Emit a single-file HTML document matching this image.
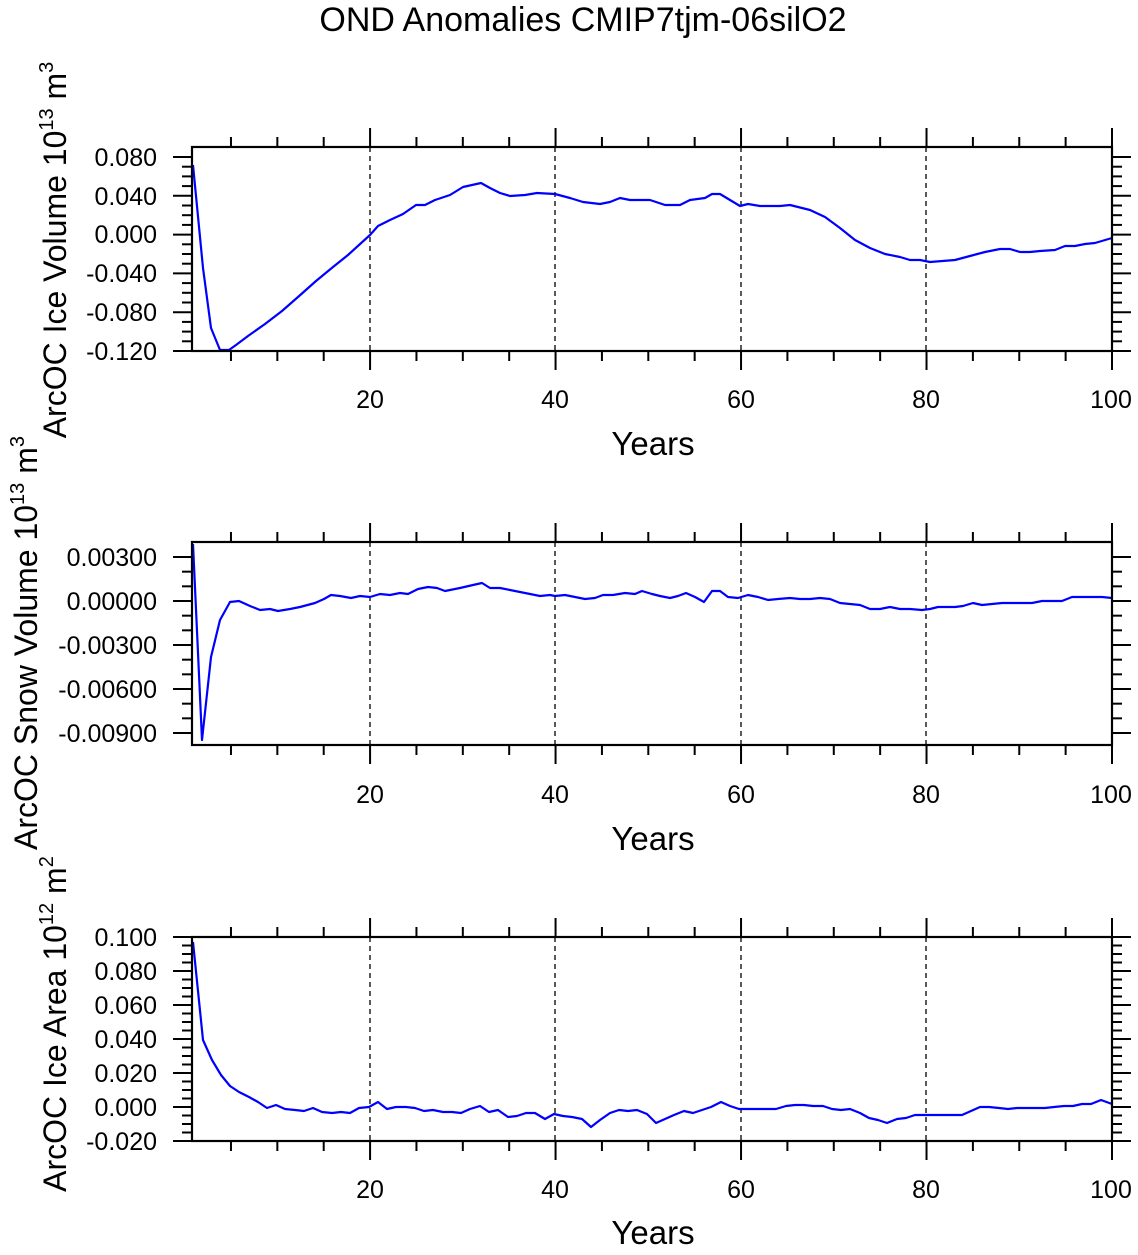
<!DOCTYPE html>
<html><head><meta charset="utf-8"><style>
html,body{margin:0;padding:0;background:#fff}
svg text{font-family:"Liberation Sans",Arial,sans-serif;fill:#000}
</style></head><body>
<svg id="s" width="1138" height="1250" viewBox="0 0 1138 1250" xmlns="http://www.w3.org/2000/svg">
<rect width="1138" height="1250" fill="#fff"/>
<text x="583" y="31" font-size="34" text-anchor="middle">OND Anomalies CMIP7tjm-06silO2</text>
<g id="ticks" stroke="#000" stroke-width="2"></g>
<g stroke="#000" stroke-width="1.3" stroke-dasharray="5,4">
<line x1="370" y1="147" x2="370" y2="351"/><line x1="555" y1="147" x2="555" y2="351"/><line x1="741" y1="147" x2="741" y2="351"/><line x1="926" y1="147" x2="926" y2="351"/>
<line x1="370" y1="542" x2="370" y2="745"/><line x1="555" y1="542" x2="555" y2="745"/><line x1="741" y1="542" x2="741" y2="745"/><line x1="926" y1="542" x2="926" y2="745"/>
<line x1="370" y1="937" x2="370" y2="1141"/><line x1="555" y1="937" x2="555" y2="1141"/><line x1="741" y1="937" x2="741" y2="1141"/><line x1="926" y1="937" x2="926" y2="1141"/>
</g>
<g fill="none" stroke="#00f" stroke-width="2.2" stroke-linejoin="round">
<polyline points="193,165 203,268 211,328 220,350 229,350 236,345 248,336 265,324 282,311 298,297 316,281 333,267 348,255 370,235 378,226 390,220 403,214 416,205 425,205 435,200 450,195 463,187 481,183 490,188 500,193 510,196 525,195 537,193 555,194 570,198 583,202 600,204 610,202 620,198 630,200 650,200 665,205 680,205 690,200 705,198 712,194 720,194 740,206 748,204 760,206 780,206 790,205 810,210 825,217 840,228 855,240 870,248 885,254 900,257 910,260 920,260 930,262 955,260 970,256 985,252 1000,249 1010,249 1020,252 1030,252 1040,251 1055,250 1065,246 1075,246 1085,244 1095,243 1112,238"/>
<polyline points="193,544 202,740 211,657 220,620 230,602 239,601 250,606 260,610 270,609 278,611 290,609 300,607 315,603 324,599 331,595 340,596 351,598 360,596 370,597 380,594 390,595 400,593 408,594 418,589 428,587 437,588 445,591 460,588 473,585 482,583 490,588 500,588 510,590 520,592 530,594 540,596 550,595 555,596 565,595 575,597 585,599 595,598 603,595 613,595 625,593 635,594 642,591 652,594 660,596 670,598 678,596 686,593 695,597 704,602 712,591 720,591 728,597 738,598 748,595 758,597 768,600 778,599 790,598 800,599 810,599 820,598 830,599 840,603 850,604 860,605 870,609 880,609 890,607 900,609 910,609 922,610 930,609 938,607 955,607 963,606 973,603 982,605 992,604 1002,603 1012,603 1022,603 1032,603 1042,601 1052,601 1062,601 1072,597 1082,597 1092,597 1102,597 1112,598"/>
<polyline points="193,942 203,1040 212,1060 221,1075 230,1086 239,1092 249,1097 258,1102 267,1108 276,1105 285,1109 295,1110 304,1111 313,1108 322,1112 332,1113 341,1112 350,1113 359,1108 369,1107 378,1102 387,1109 396,1107 406,1107 415,1108 424,1111 433,1110 443,1112 452,1112 461,1113 470,1109 480,1106 489,1112 498,1110 508,1117 517,1116 526,1113 535,1113 545,1119 554,1114 563,1116 572,1117 582,1119 591,1127 600,1120 610,1113 619,1110 628,1111 637,1110 647,1114 656,1123 665,1119 674,1115 684,1111 693,1113 702,1110 711,1107 721,1102 730,1106 739,1109 749,1109 758,1109 767,1109 776,1109 786,1106 795,1105 804,1105 813,1106 823,1106 832,1109 841,1110 850,1109 860,1113 869,1118 878,1120 887,1123 897,1119 906,1118 915,1115 925,1115 934,1115 943,1115 952,1115 962,1115 971,1111 980,1107 989,1107 999,1108 1008,1109 1017,1108 1026,1108 1036,1108 1045,1108 1054,1107 1064,1106 1073,1106 1082,1104 1091,1104 1101,1100 1112,1104"/>
</g>
<g fill="none" stroke="#000" stroke-width="2.2">
<rect x="192" y="147" width="920" height="204"/>
<rect x="192" y="542" width="920" height="203"/>
<rect x="192" y="937" width="920" height="204"/>
</g>
<g font-size="25" text-anchor="end">
<text x="157" y="166">0.080</text><text x="157" y="205">0.040</text><text x="157" y="243">0.000</text><text x="157" y="282">-0.040</text><text x="157" y="321">-0.080</text><text x="157" y="360">-0.120</text>
<text x="157" y="566">0.00300</text><text x="157" y="610">0.00000</text><text x="157" y="654">-0.00300</text><text x="157" y="698">-0.00600</text><text x="157" y="742">-0.00900</text>
<text x="157" y="946">0.100</text><text x="157" y="980">0.080</text><text x="157" y="1014">0.060</text><text x="157" y="1048">0.040</text><text x="157" y="1082">0.020</text><text x="157" y="1116">0.000</text><text x="157" y="1150">-0.020</text>
</g>
<g font-size="25" text-anchor="middle">
<text x="370" y="408">20</text><text x="555" y="408">40</text><text x="741" y="408">60</text><text x="926" y="408">80</text><text x="1111" y="408">100</text>
<text x="370" y="803">20</text><text x="555" y="803">40</text><text x="741" y="803">60</text><text x="926" y="803">80</text><text x="1111" y="803">100</text>
<text x="370" y="1198">20</text><text x="555" y="1198">40</text><text x="741" y="1198">60</text><text x="926" y="1198">80</text><text x="1111" y="1198">100</text>
</g>
<g font-size="33" text-anchor="middle">
<text x="653" y="455">Years</text><text x="653" y="850">Years</text><text x="653" y="1244">Years</text>
</g>
<g font-size="32" text-anchor="middle">
<text transform="translate(66,250) rotate(-90)">ArcOC Ice Volume 10<tspan font-size="20" dy="-13">13</tspan><tspan dy="13"> m</tspan><tspan font-size="20" dy="-13">3</tspan></text>
<text transform="translate(37,643) rotate(-90)">ArcOC Snow Volume 10<tspan font-size="20" dy="-13">13</tspan><tspan dy="13"> m</tspan><tspan font-size="20" dy="-13">3</tspan></text>
<text transform="translate(66,1024) rotate(-90)">ArcOC Ice Area 10<tspan font-size="20" dy="-13">12</tspan><tspan dy="13"> m</tspan><tspan font-size="20" dy="-13">2</tspan></text>
</g>
</svg>
<script>
(function(){
var g=document.getElementById('ticks'),ns='http://www.w3.org/2000/svg';
function L(a,b,c,d){var l=document.createElementNS(ns,'line');l.setAttribute('x1',a);l.setAttribute('y1',b);l.setAttribute('x2',c);l.setAttribute('y2',d);g.appendChild(l);}
var P=[{t:147,b:351,y0:157,step:9.7,n:20,maj:4},{t:542,b:745,y0:557,step:14.667,n:12,maj:3},{t:937,b:1141,y0:937,step:8.5,n:24,maj:4}];
P.forEach(function(p){
 for(var yr=5;yr<=100;yr+=5){var x=184.6+9.274*yr;var m=yr%20==0;var len=m?19:10;
  L(x,p.b,x,p.b+len);L(x,p.t,x,p.t-len);}
 for(var i=0;i<=p.n;i++){var y=p.y0+i*p.step;if(y>p.b+1)break;var m=i%p.maj==0;var len=m?19:10;
  L(192-len,y,192,y);L(1112,y,1112+len,y);}
});
})();
</script>
</body></html>
